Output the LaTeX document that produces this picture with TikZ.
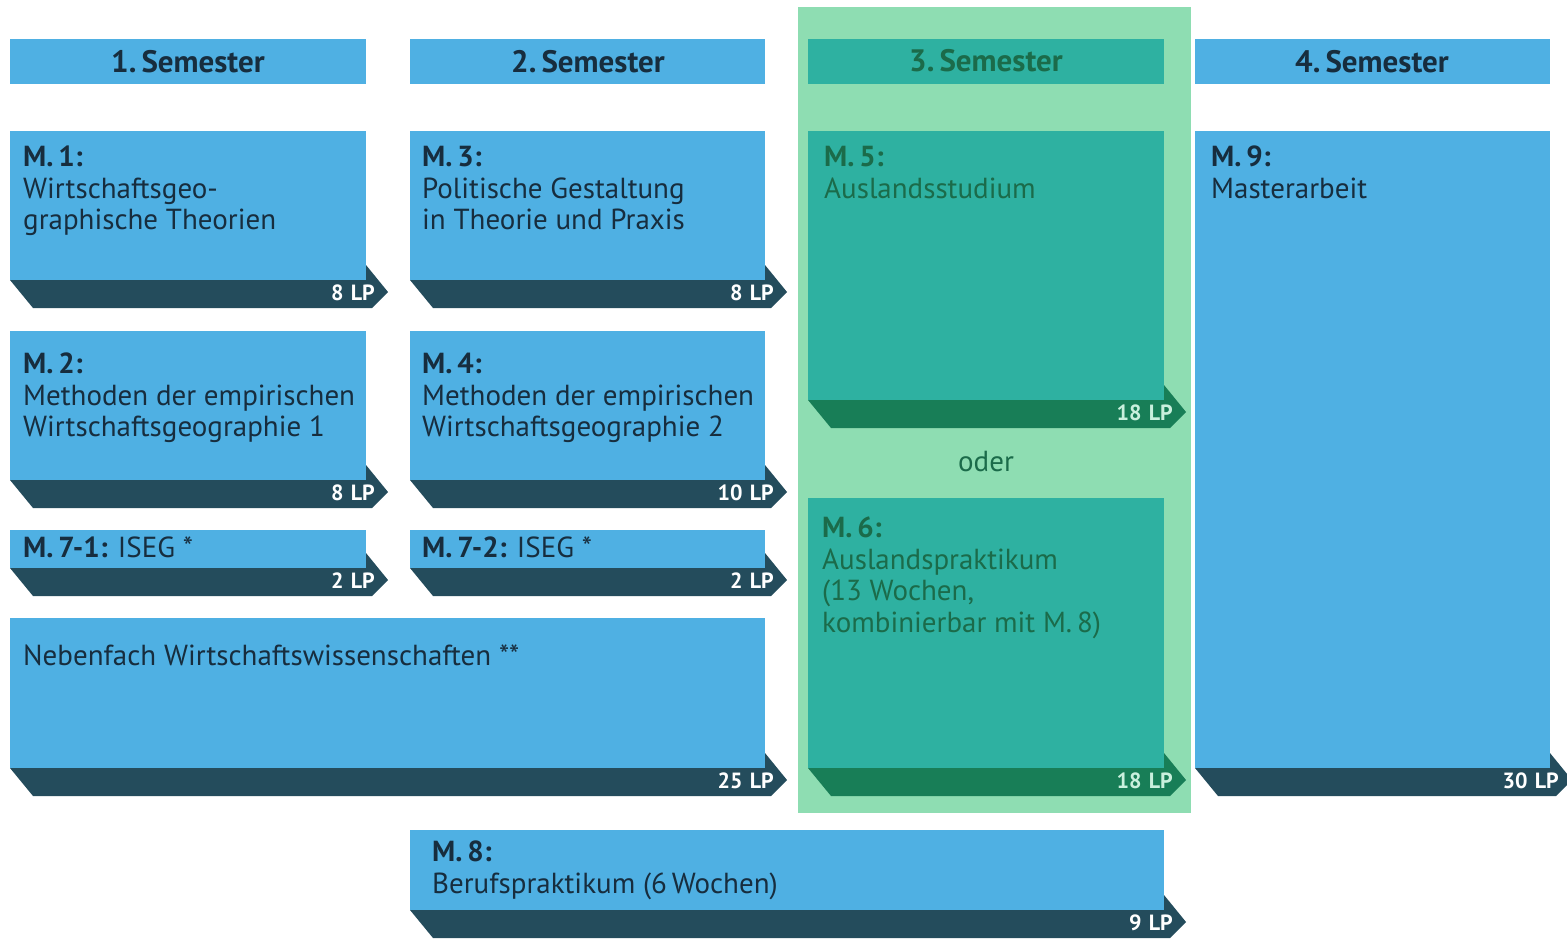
\documentclass[tikz,border=0pt]{standalone}
\usepackage{fontspec}
\setmainfont{PT Sans}
\definecolor{lblue}{HTML}{4FB0E3}
\definecolor{dband}{HTML}{244C5C}
\definecolor{navy}{HTML}{172D3E}
\definecolor{teal}{HTML}{2EB1A1}
\definecolor{gbg}{HTML}{8EDDB2}
\definecolor{gband}{HTML}{187E57}
\definecolor{gtext}{HTML}{1B6B4A}
\definecolor{lptext}{HTML}{C9F0DD}
\tikzset{
  x=1pt, y=-1pt,
  hdr/.style={font=\fontsize{31}{34}\selectfont\bfseries, text=navy, anchor=center},
  modtext/.style={anchor=north west, align=left, inner sep=0pt, text=navy,
    font=\fontsize{29}{31.5}\selectfont},
  lp/.style={anchor=base east, inner sep=0pt, text=white,
    font=\fontsize{22}{24}\selectfont\bfseries},
}
\newcommand\modbox[8]{%
  \fill[#5] (#1,#2) rectangle (#3,#4);
  \fill[#6] (#1,#4) -- (#3,#4) -- (#3,#4-15) -- (#3+22,#4+12) -- (#3+6,#4+28) -- (#1+23,#4+28) -- cycle;
  \node[lp, text=#8] (#7) at (#3+9,#4+20) {\lpval};
}
\begin{document}
\begin{tikzpicture}
\useasboundingbox (0,0) rectangle (1567,938);
\fill[white] (0,0) rectangle (1567,938);
% green background for semester 3
\fill[gbg] (798,7) rectangle (1191,813);
% headers
\fill[lblue] (10,39) rectangle (366,84);
\fill[lblue] (410,39) rectangle (765,84);
\fill[teal] (808,39) rectangle (1164,84);
\fill[lblue] (1195,39) rectangle (1550,84);
\node[hdr] (h1) at (188,62) {1.\,Semester};
\node[hdr] (h2) at (588,62) {2.\,Semester};
\node[hdr, text=gtext] (h3) at (986,61) {3.\,Semester};
\node[hdr] (h4) at (1372,62) {4.\,Semester};
% module boxes
\def\lpval{8\,\,LP}\modbox{10}{131}{366}{280}{lblue}{dband}{lp1}{white}
\def\lpval{8\,\,LP}\modbox{410}{131}{765}{280}{lblue}{dband}{lp3}{white}
\def\lpval{8\,\,LP}\modbox{10}{331}{366}{480}{lblue}{dband}{lp2}{white}
\def\lpval{10\,\,LP}\modbox{410}{331}{765}{480}{lblue}{dband}{lp4}{white}
\def\lpval{2\,\,LP}\modbox{10}{530}{366}{568}{lblue}{dband}{lp71}{white}
\def\lpval{2\,\,LP}\modbox{410}{530}{765}{568}{lblue}{dband}{lp72}{white}
\def\lpval{25\,\,LP}\modbox{10}{618}{765}{768}{lblue}{dband}{lpnf}{white}
\def\lpval{18\,\,LP}\modbox{808}{131}{1164}{400}{teal}{gband}{lp5}{lptext}
\def\lpval{18\,\,LP}\modbox{808}{498}{1164}{768}{teal}{gband}{lp6}{lptext}
\def\lpval{30\,\,LP}\modbox{1195}{131}{1550}{768}{lblue}{dband}{lp9}{white}
\def\lpval{9\,\,LP}\modbox{410}{830}{1164}{910}{lblue}{dband}{lp8}{white}
% texts
\node[modtext] (t1) at (23,146) {\textbf{M.\,1:}\\Wirtschaftsgeo-\\graphische Theorien};
\node[modtext] (t3) at (422,146) {\textbf{M.\,3:}\\Politische Gestaltung\\in Theorie und Praxis};
\node[modtext] (t2) at (23,353) {\textbf{M.\,2:}\\Methoden der empirischen\\Wirtschaftsgeographie 1};
\node[modtext] (t4) at (422,353) {\textbf{M.\,4:}\\Methoden der empirischen\\Wirtschaftsgeographie 2};
\node[modtext] (t71) at (23,537) {\textbf{M.\,7-1:} ISEG *};
\node[modtext] (t72) at (422,537) {\textbf{M.\,7-2:} ISEG *};
\node[modtext] (tnf) at (23,645) {Nebenfach Wirtschaftswissenschaften **};
\node[modtext, text=gtext] (t5) at (824,146) {\textbf{M.\,5:}\\Auslandsstudium};
\node[modtext, text=gtext] (t6) at (822,517) {\textbf{M.\,6:}\\Auslandspraktikum\\(13 Wochen,\\kombinierbar mit M.\,8)};
\node[modtext] (t9) at (1211,146) {\textbf{M.\,9:}\\Masterarbeit};
\node[modtext] (t8) at (432,841) {\textbf{M.\,8:}\\Berufspraktikum (6\,Wochen)};
\node[font=\fontsize{29}{32}\selectfont, text=gtext] (oder) at (986,462) {oder};
\end{tikzpicture}
\end{document}
